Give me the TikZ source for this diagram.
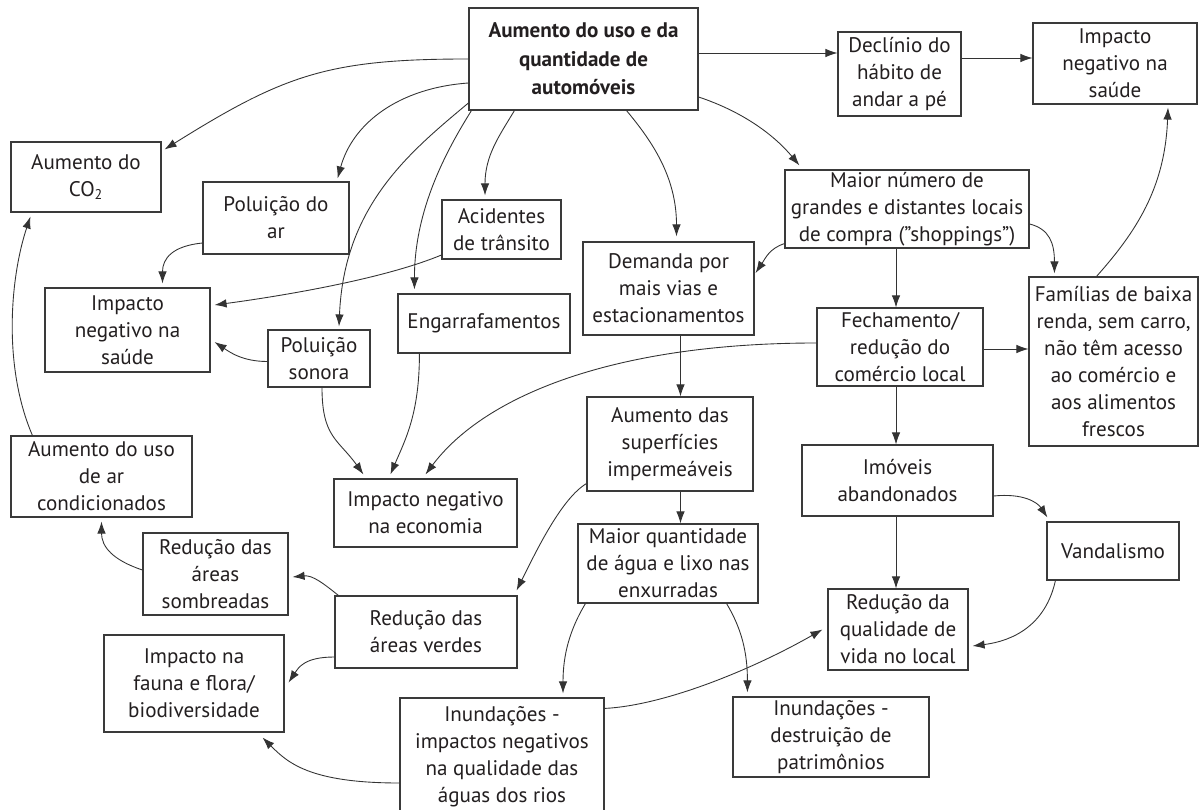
\documentclass[tikz,border=0pt]{standalone}
\usepackage{fontspec}
\setmainfont{PT Sans}
\usetikzlibrary{arrows.meta,calc}
\definecolor{boxgray}{HTML}{3A3A3A}
\definecolor{linegray}{HTML}{333333}
\definecolor{txt}{HTML}{231F20}
\begin{document}
\begin{tikzpicture}[
		x=0.02cm,y=-0.02cm,
		box/.style={draw=boxgray,line width=0.65pt,align=center,inner sep=1pt,text=txt,font=\fontsize{12}{15.4}\selectfont},
		bold/.style={font=\fontsize{12}{16.2}\selectfont\bfseries},
		sz/.style 2 args={minimum width=#1*0.02cm,minimum height=#2*0.02cm},
		arr/.style={draw=linegray,line width=0.5pt,-{Latex[length=2.4mm,width=1.7mm]}}
	]
	\useasboundingbox[fill=white] (0,0) rectangle (1199,810);
	\node[box,bold,sz={229}{102}] (top) at (583.5,59) {Aumento do uso e da\\quantidade de\\automóveis};
	\node[box,sz={123}{84}] (declinio) at (899.5,74) {Declínio do\\hábito de\\andar a pé};
	\node[box,sz={164}{81}] (saude1) at (1115,63.5) {Impacto\\negativo na\\saúde};
	\node[box,sz={150}{70}] (co2) at (86,177) {Aumento do\\CO\textsubscript{2}};
	\node[box,sz={146}{72}] (polar) at (276,218) {Poluição do\\ar};
	\node[box,sz={119}{59}] (acid) at (501.5,229.5) {Acidentes\\de trânsito};
	\node[box,sz={244}{78}] (shop) at (907,209) {Maior número de\\grandes e distantes locais\\de compra ("shoppings")};
	\node[box,sz={171}{93}] (demanda) at (668.5,288.5) {Demanda por\\mais vias e\\estacionamentos};
	\node[box,sz={165}{84}] (saude2) at (127.5,330) {Impacto\\negativo na\\saúde};
	\node[box,sz={172}{59}] (engarr) at (484,323.5) {Engarrafamentos};
	\node[box,sz={102}{57}] (sonora) at (319,358.5) {Poluição\\sonora};
	\node[box,sz={166}{78}] (fecham) at (900,347) {Fechamento/\\redução do\\comércio local};
	\node[box,sz={169}{169}] (familias) at (1113.5,361.5) {Famílias de baixa\\renda, sem carro,\\não têm acesso\\ao comércio e\\aos alimentos\\frescos};
	\node[box,sz={181}{81}] (arcond) at (101.5,476.5) {Aumento do uso\\de ar\\condicionados};
	\node[box,sz={183}{68}] (economia) at (425.5,513) {Impacto negativo\\na economia};
	\node[box,sz={166}{94}] (superf) at (670,444) {Aumento das\\superfícies\\impermeáveis};
	\node[box,sz={191}{71}] (imoveis) at (897.5,480.5) {Imóveis\\abandonados};
	\node[box,sz={180}{79}] (enxurr) at (668,563.5) {Maior quantidade\\de água e lixo nas\\enxurradas};
	\node[box,sz={132}{58}] (vandal) at (1113,551) {Vandalismo};
	\node[box,sz={145}{82}] (sombra) at (215.5,574) {Redução das\\áreas\\sombreadas};
	\node[box,sz={182}{72}] (verdes) at (426,632) {Redução das\\áreas verdes};
	\node[box,sz={140}{81}] (qualid) at (898,629.5) {Redução da\\qualidade de\\vida no local};
	\node[box,sz={180}{97}] (fauna) at (194,683.5) {Impacto na\\fauna e flora/\\biodiversidade};
	\node[box,sz={204}{117}] (rios) at (502,756.5) {Inundações -\\impactos negativos\\na qualidade das\\águas dos rios};
	\node[box,sz={196}{80}] (patrim) at (831,737) {Inundações -\\destruição de\\patrimônios};

	\draw[arr] ($(top.east)+(0,-6)$) -- ($(declinio.west)+(0,-21)$);
	\draw[arr] ($(declinio.east)+(0,-16)$) -- ($(saude1.west)+(0,-5.5)$);
	\draw[arr] (top.west) .. controls +(-140,0) and +(120,-75) .. ($(co2.north east)+(3,8)$);
	\draw[arr] ($(top.west)+(0,24)$) .. controls +(-70,5) and +(15,-55) .. ($(polar.north east)+(-12,-3)$);
	\draw[arr] ($(top.west)+(0,44)$) .. controls +(-60,50) and +(5,-120) .. ($(sonora.north)+(20,-3)$);
	\draw[arr] ($(top.south west)+(3,0)$) .. controls +(-25,40) and +(0,-80) .. ($(engarr.north west)+(17,-4)$);
	\draw[arr] ($(top.south west)+(46,0)$) .. controls +(-15,25) and +(0,-40) .. ($(acid.north)+(-16.5,-4)$);
	\draw[arr] ($(top.south)+(43,0)$) .. controls +(25,30) and +(0,-60) .. ($(demanda.north)+(8,-5)$);
	\draw[arr] ($(top.east)+(0,38)$) .. controls +(45,15) and +(-25,-30) .. ($(shop.north west)+(15,-4)$);
	\draw[arr] ($(shop.south west)+(0,-5)$) .. controls +(-15,5) and +(10,-15) .. ($(demanda.east)+(1,-15.5)$);
	\draw[arr] ($(shop.south)+(-11,0)$) -- ($(fecham.north)+(-4,0)$);
	\draw[arr] ($(shop.east)+(0,15)$) .. controls +(20,5) and +(0,-30) .. ($(familias.north west)+(26,-3)$);
	\draw[arr] ($(familias.north)+(-17,0)$) .. controls +(40,-45) and +(-3,80) .. ($(saude1.south)+(53,3)$);
	\draw[arr] ($(polar.west)+(0,25)$) .. controls +(-30,3) and +(0,-25) .. ($(saude2.north)+(35,-4)$);
	\draw[arr] ($(acid.west)+(0,25.5)$) .. controls +(-60,25) and +(60,-8) .. ($(saude2.east)+(4,-25)$);
	\draw[arr] ($(sonora.west)+(0,3)$) .. controls +(-25,0) and +(15,10) .. ($(saude2.east)+(4,12)$);
	\draw[arr] ($(sonora.south)+(3,0)$) .. controls +(0,50) and +(-25,-35) .. ($(economia.north west)+(30,-4)$);
	\draw[arr] ($(engarr.south west)+(22,0)$) .. controls +(0,60) and +(15,-35) .. ($(economia.north west)+(57,-4)$);
	\draw[arr] ($(fecham.west)+(0,-4)$) .. controls +(-200,0) and +(60,-80) .. ($(economia.north)+(0,-4)$);
	\draw[arr] ($(demanda.south)+(12,0)$) -- ($(superf.north)+(10.5,0)$);
	\draw[arr] ($(fecham.south)+(-4,0)$) -- ($(imoveis.north)+(-1.5,0)$);
	\draw[arr] ($(fecham.east)+(0,2)$) -- ($(familias.west)+(0,-12.5)$);
	\draw[arr] ($(superf.south)+(10.5,0)$) -- ($(enxurr.north)+(12.5,0)$);
	\draw[arr] ($(superf.south west)+(0,-8)$) .. controls +(-25,15) and +(20,-40) .. ($(verdes.north east)+(-1,-5)$);
	\draw[arr] ($(imoveis.east)+(0,15.5)$) .. controls +(30,-3) and +(-10,-15) .. ($(vandal.north west)+(1,-4)$);
	\draw[arr] ($(imoveis.south)+(-1.5,0)$) -- ($(qualid.north)+(-2,0)$);
	\draw[arr] ($(vandal.south west)+(9,0)$) .. controls +(-10,45) and +(40,-5) .. ($(qualid.east)+(4,16.5)$);
	\draw[arr] ($(verdes.north west)+(4,0)$) .. controls +(-15,-12) and +(20,-2) .. ($(sombra.east)+(4,3)$);
	\draw[arr] ($(verdes.west)+(0,25)$) .. controls +(-30,0) and +(10,-15) .. ($(fauna.east)+(4,-1)$);
	\draw[arr] ($(sombra.west)+(0,-4)$) .. controls +(-30,-10) and +(0,25) .. ($(arcond.south)+(0,4)$);
	\draw[arr] ($(arcond.north west)+(22,0)$) .. controls +(-30,-70) and +(-20,60) .. ($(co2.south west)+(20,4)$);
	\draw[arr] ($(enxurr.south west)+(8,0)$) .. controls +(-15,25) and +(0,-40) .. ($(rios.north)+(61,-4)$);
	\draw[arr] ($(enxurr.south east)+(-32,0)$) .. controls +(15,25) and +(0,-40) .. ($(patrim.north west)+(15,-4)$);
	\draw[arr] ($(rios.north east)+(0,11)$) .. controls +(60,-3) and +(-70,40) .. ($(qualid.west)+(-5,0)$);
	\draw[arr] ($(rios.west)+(0,26.5)$) .. controls +(-90,0) and +(25,25) .. ($(fauna.south east)+(-22,5)$);
\end{tikzpicture}
\end{document}
